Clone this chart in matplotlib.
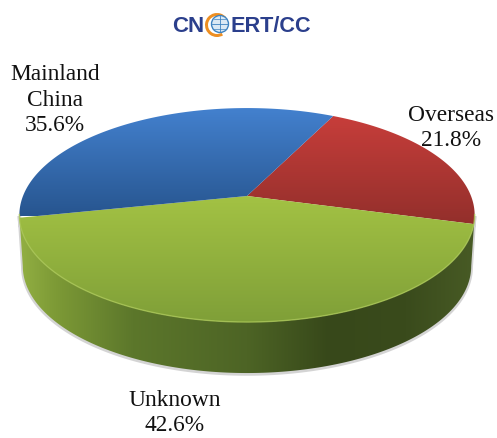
import numpy as np
import matplotlib
matplotlib.use("Agg")
import matplotlib.pyplot as plt
from matplotlib.colors import LinearSegmentedColormap
from matplotlib.patches import Polygon, Circle, Wedge

# valores de la grafica
labels = ["Overseas", "Unknown", "Mainland\nChina"]
values = [21.8, 42.6, 35.6]

start_angle = 63.5
cx, cy = 247, 196
A, B, k = 224, 103.6, 0.178
depth = 51


def proyectar(t):
    # circulo visto en perspectiva
    u, v = np.cos(t), np.sin(t)
    return cx + A * u / (1 + k * v), cy - B * v / (1 + k * v)


def gradiente(ax, colores, extent, clip, horizontal=False, z=2):
    cmap = LinearSegmentedColormap.from_list("g", colores)
    g = np.linspace(0, 1, 256)
    g = g.reshape(1, -1) if horizontal else g.reshape(-1, 1)
    im = ax.imshow(g, cmap=cmap, extent=extent, aspect="auto", zorder=z, interpolation="bilinear")
    im.set_clip_path(clip)


fig = plt.figure(figsize=(4.97, 4.38), dpi=100, facecolor="white")
ax = fig.add_axes([0, 0, 1, 1])
ax.axis("off")

# Canto del pastel
t_lim = np.arcsin(-k)
t = np.linspace(np.pi - t_lim, 2 * np.pi + t_lim, 200)
x, y = proyectar(t)
x2 = cx + (x - cx) * 0.985
y2 = y + depth
canto = np.concatenate([np.column_stack([x, y]), np.column_stack([x2, y2])[::-1]])

sombra = Polygon(canto + [0, 1], closed=True, fc="none", ec="#b8b8b8", lw=2.5, alpha=0.6, zorder=1)
ax.add_patch(sombra)
p = Polygon(canto, closed=True, fc="none", ec="none", zorder=2)
ax.add_patch(p)
gradiente(ax, [(0, "#93b043"), (0.08, "#7d9a36"), (0.25, "#5c772b"), (0.5, "#4d6425"),
               (0.68, "#37481a"), (0.85, "#3a4b1c"), (1, "#485b25")],
          (18, 476, 438, 0), p, horizontal=True)

# Rebanadas
colores = [["#cc3f3c", "#8f2e2a"], ["#a4c344", "#7f9f38"], ["#4482d0", "#27558f"]]
rangos = [(105, 232), (192, 323), (105, 216)]
angulo = np.deg2rad(start_angle)
for val, col, ry in zip(values, colores, rangos):
    fin = angulo - np.deg2rad(val * 3.6)
    t = np.linspace(angulo, fin, 200)
    x, y = proyectar(t)
    pts = np.vstack([[cx, cy], np.column_stack([x, y])])
    p = Polygon(pts, closed=True, fc="none", ec="none", zorder=3)
    ax.add_patch(p)
    gradiente(ax, col, (0, 497, ry[1], ry[0]), p, z=3)
    angulo = fin

# brillo del borde frontal
t = np.linspace(np.deg2rad(190), np.deg2rad(350), 200)
x, y = proyectar(t)
ax.plot(x, y, color="#a9c655", lw=1.0, alpha=0.8, zorder=4)

# Etiquetas
pos = [(451, 128), (175, 413), (55, 100)]
for lab, val, (px, py) in zip(labels, values, pos):
    ax.text(px, py, f"{lab}\n{val}%", ha="center", va="center", fontsize=16.8,
            family="Liberation Serif", color="#111111", linespacing=1.3, zorder=6)

# Logo
ax.text(172, 26, "CN", ha="left", va="center", fontsize=16, family="Liberation Sans",
        weight="bold", color="#2b3f8c", zorder=6)
ax.text(231, 26, "ERT/CC", ha="left", va="center", fontsize=15.6, family="Liberation Sans",
        weight="bold", color="#2b3f8c", zorder=6)
ax.add_patch(Wedge((217, 25), 12, 60, 320, width=3, fc="#ee8f22", ec="none", zorder=6))
ax.add_patch(Circle((220, 24), 8.5, fc="#dbe9f4", ec="#3f83c0", lw=1.0, zorder=6))
ax.plot([212, 228], [24, 24], color="#3f83c0", lw=0.6, zorder=7)
ax.plot([220, 220], [16, 32], color="#3f83c0", lw=0.6, zorder=7)
ax.plot([214, 226], [19, 19], color="#3f83c0", lw=0.5, zorder=7)
ax.plot([214, 226], [29, 29], color="#3f83c0", lw=0.5, zorder=7)

ax.set_xlim(0, 497)
ax.set_ylim(438, 0)
fig.savefig("out.png", dpi=100, facecolor="white")
